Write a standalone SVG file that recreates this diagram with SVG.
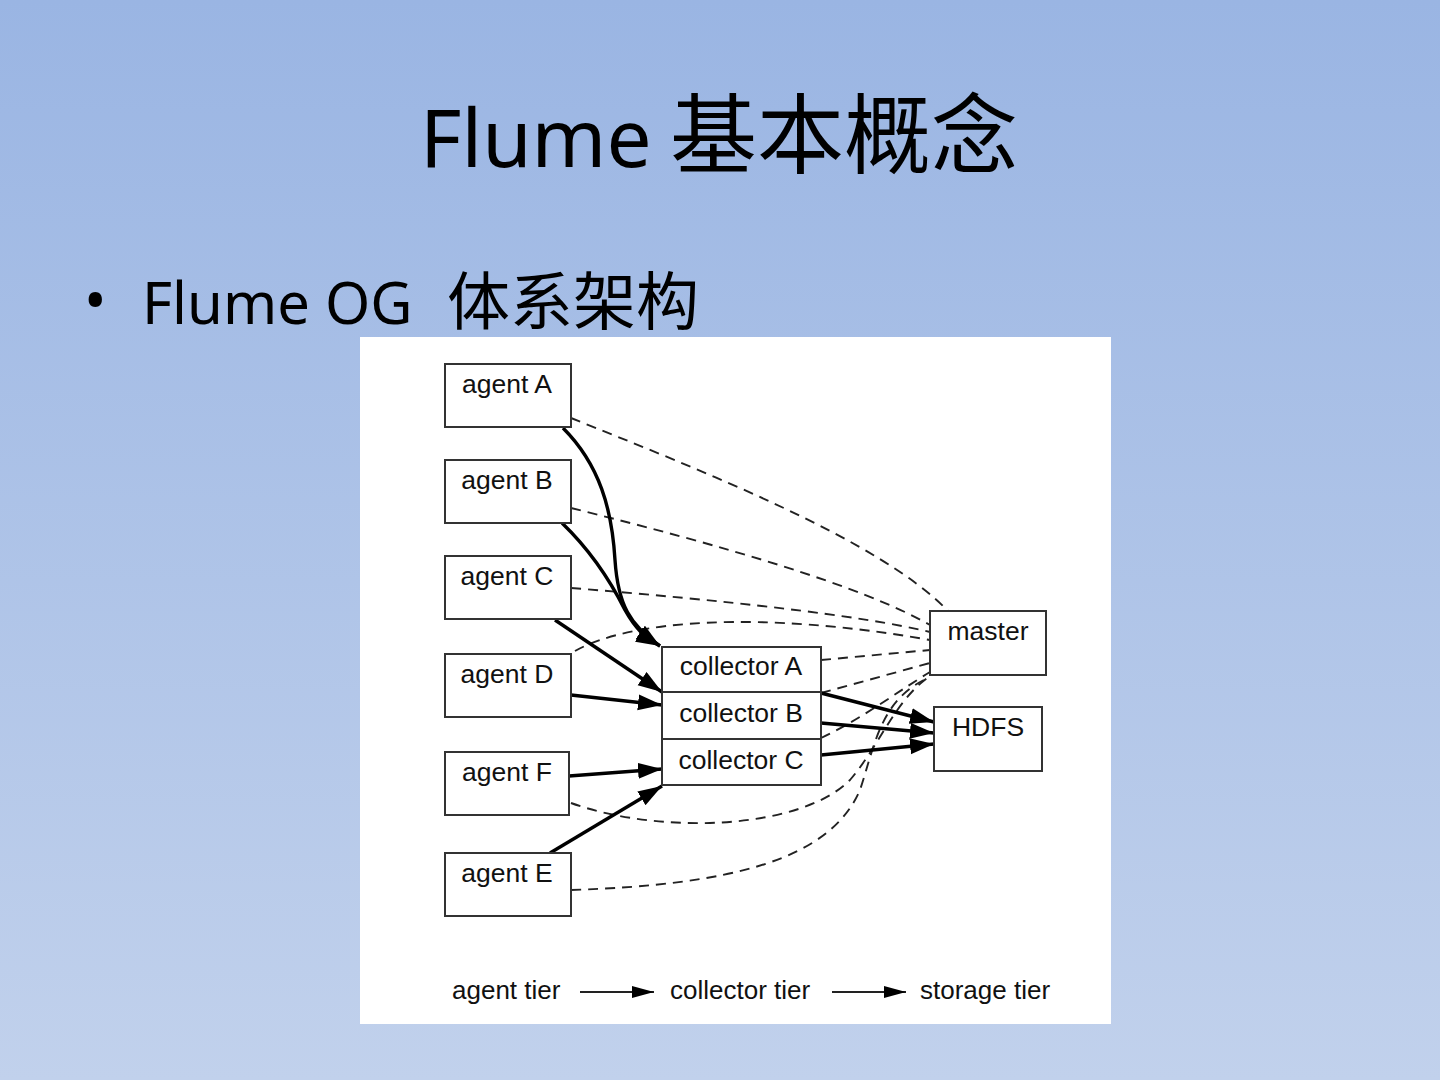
<svg xmlns="http://www.w3.org/2000/svg" width="1440" height="1080" viewBox="0 0 1440 1080">
<defs>
<linearGradient id="bg" x1="0" y1="0" x2="0" y2="1">
<stop offset="0" stop-color="#9AB5E3"/>
<stop offset="1" stop-color="#C1D1EC"/>
</linearGradient>
<marker id="ah" markerUnits="userSpaceOnUse" markerWidth="26" markerHeight="18" refX="24" refY="8" orient="auto">
<path d="M0,0 L24,8 L0,16 Z" fill="#000"/>
</marker>
<marker id="ahs" markerUnits="userSpaceOnUse" markerWidth="24" markerHeight="16" refX="22" refY="6" orient="auto">
<path d="M0,0 L22,6 L0,12 Z" fill="#000"/>
</marker>
<style>
.box{fill:#fff;stroke:#333;stroke-width:2}
.lbl{font-family:"Liberation Sans",Arial,sans-serif;font-size:26.5px;fill:#111}
.leglbl{font-family:"Liberation Sans",Arial,sans-serif;font-size:26px;fill:#111}
.solid{fill:none;stroke:#000;stroke-width:3.4;marker-end:url(#ah)}
.dash{fill:none;stroke:#222;stroke-width:1.9;stroke-dasharray:10 7}
.leg{fill:none;stroke:#222;stroke-width:2;marker-end:url(#ahs)}
.title{font-family:"Noto Sans","Noto Sans CJK SC",sans-serif;fill:#000}
</style>
</defs>
<rect width="1440" height="1080" fill="url(#bg)"/>
<text class="title" x="420" y="167" font-size="80">Flume</text>
<text class="title" x="670" y="167" font-size="87">基本概念</text>
<text class="title" x="84" y="322" font-size="60">•</text>
<text class="title" x="142" y="324" font-size="58">Flume OG</text>
<text class="title" x="447" y="324" font-size="63">体系架构</text>
<rect x="360" y="337" width="751" height="687" fill="#fff"/>

<g id="connectors">
<path class="dash" d="M571,418 C700,470 880,540 948,611"/>
<path class="dash" d="M571,508 C720,545 860,585 930,625"/>
<path class="dash" d="M571,588 C720,600 860,615 930,632"/>
<path class="dash" d="M575,651 C630,620 760,610 930,640"/>
<path class="dash" d="M821,660 L930,650"/>
<path class="dash" d="M821,693 L930,663"/>
<path class="dash" d="M821,738 C860,720 900,690 930,672"/>
<path class="dash" d="M571,803 C660,835 800,830 850,780 C880,745 895,700 930,676"/>
<path class="dash" d="M571,890 C730,885 830,860 860,790 C875,745 880,700 928,678"/>
<path class="solid" d="M563,428 C600,465 612,510 615,560 C618,605 630,625 660,646"/>
<path class="solid" d="M562,523 C590,550 610,580 625,610 C635,628 645,638 660,646"/>
<path class="solid" d="M555,620 L662,692"/>
<path class="solid" d="M571,695 L662,705"/>
<path class="solid" d="M569,776 L662,769"/>
<path class="solid" d="M550,853 L662,786"/>
<path class="solid" d="M821,693 L934,722"/>
<path class="solid" d="M821,723 L934,733"/>
<path class="solid" d="M821,755 L934,744"/>
<path class="leg" d="M580,992 L654,992"/>
<path class="leg" d="M832,992 L906,992"/>
</g>

<g id="agentA"><rect class="box" x="445" y="364" width="126" height="63"/><text class="lbl" x="507" y="393" text-anchor="middle">agent A</text></g>
<g id="agentB"><rect class="box" x="445" y="460" width="126" height="63"/><text class="lbl" x="507" y="489" text-anchor="middle">agent B</text></g>
<g id="agentC"><rect class="box" x="445" y="556" width="126" height="63"/><text class="lbl" x="507" y="585" text-anchor="middle">agent C</text></g>
<g id="agentD"><rect class="box" x="445" y="654" width="126" height="63"/><text class="lbl" x="507" y="683" text-anchor="middle">agent D</text></g>
<g id="agentF"><rect class="box" x="445" y="752" width="124" height="63"/><text class="lbl" x="507" y="781" text-anchor="middle">agent F</text></g>
<g id="agentE"><rect class="box" x="445" y="853" width="126" height="63"/><text class="lbl" x="507" y="882" text-anchor="middle">agent E</text></g>
<g id="collectorA"><rect class="box" x="662" y="647" width="159" height="45"/><text class="lbl" x="741" y="675" text-anchor="middle">collector A</text></g>
<g id="collectorB"><rect class="box" x="662" y="692" width="159" height="47"/><text class="lbl" x="741" y="722" text-anchor="middle">collector B</text></g>
<g id="collectorC"><rect class="box" x="662" y="739" width="159" height="46"/><text class="lbl" x="741" y="769" text-anchor="middle">collector C</text></g>
<g id="master"><rect class="box" x="930" y="611" width="116" height="64"/><text class="lbl" x="988" y="640" text-anchor="middle">master</text></g>
<g id="HDFS"><rect class="box" x="934" y="707" width="108" height="64"/><text class="lbl" x="988" y="736" text-anchor="middle">HDFS</text></g>

<g id="legend">
<text class="leglbl" x="452" y="999">agent tier</text>
<text class="leglbl" x="670" y="999">collector tier</text>
<text class="leglbl" x="920" y="999">storage tier</text>
</g>
</svg>
